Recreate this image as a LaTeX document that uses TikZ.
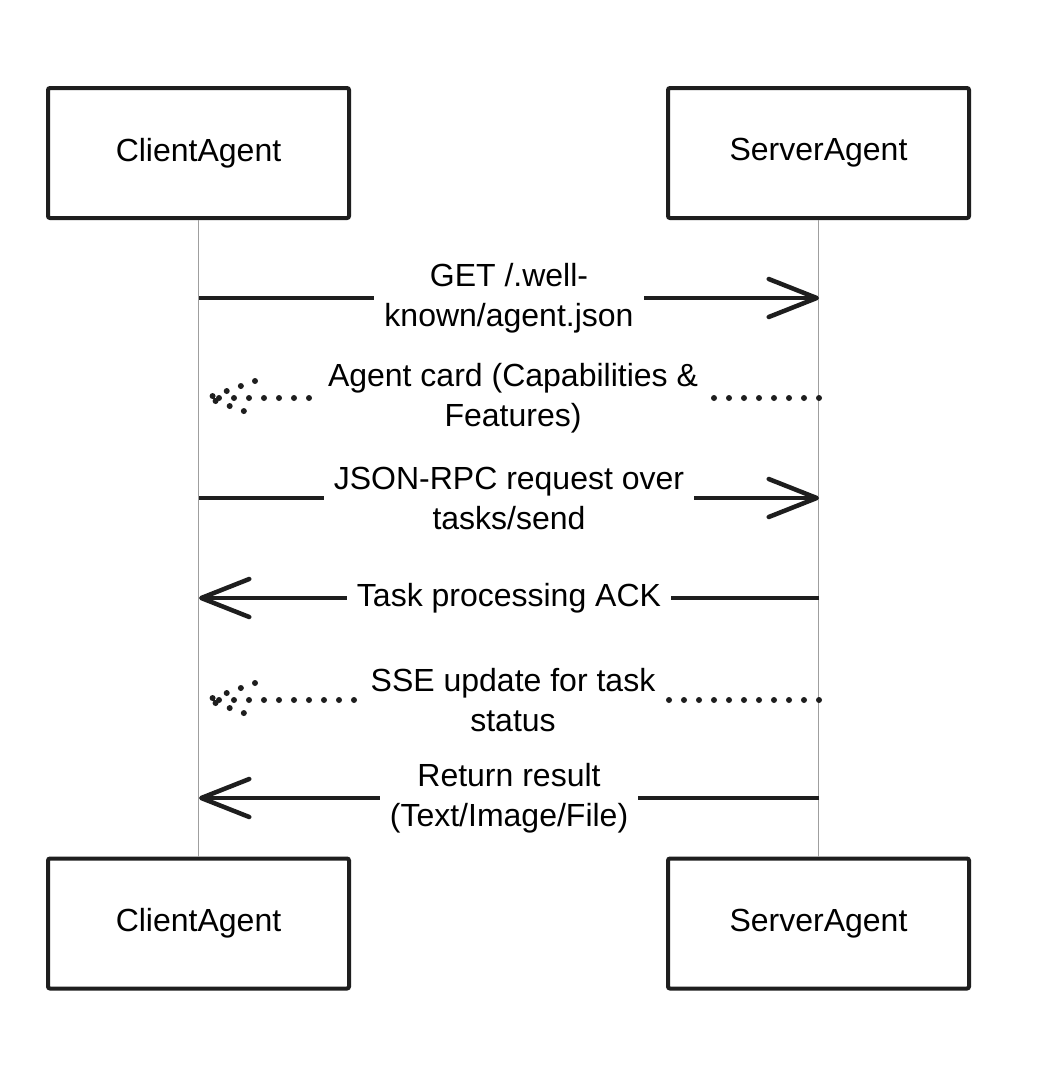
\documentclass[tikz,border=0pt]{standalone}
\usepackage{fontspec}
\setmainfont{Liberation Sans}
\usetikzlibrary{arrows.meta,calc}
\definecolor{ink}{HTML}{1E1E1E}
\begin{document}
\begin{tikzpicture}[x=1pt,y=-1pt,
  actor/.style={draw=ink, line width=4pt, minimum width=301pt, minimum height=130pt, inner sep=0pt, rounded corners=2pt, font=\fontsize{32}{40}\selectfont, fill=white},
  life/.style={draw=gray!75, line width=1.5pt},
  msg/.style={line width=4.5pt, draw=ink},
  solidhead/.style={-{Straight Barb[length=48pt,width=38pt,line width=4.5pt,round]}},
  dotmsg/.style={draw=ink, line width=6pt, line cap=round, dash pattern=on 0pt off 15pt},
  lbl/.style={fill=white, align=center, inner sep=10pt, font=\fontsize{32}{40}\selectfont, text=black}
]
\useasboundingbox[fill=white] (0,0) rectangle (1040,1072);

\node[actor] (ct) at (198.5,153) {ClientAgent};
\node[actor] (st) at (818.5,153) {ServerAgent};
\node[actor] (cb) at (198.5,923.5) {ClientAgent};
\node[actor] (sb) at (818.5,923.5) {ServerAgent};

\draw[life] (ct.south) -- (cb.north);
\draw[life] (st.south) -- (sb.north);

\coordinate (c1) at (199,298);  \coordinate (s1) at (819,298);
\coordinate (c2) at (207,398);  \coordinate (s2) at (819,398);
\coordinate (c3) at (199,498);  \coordinate (s3) at (819,498);
\coordinate (c4) at (199,598);  \coordinate (s4) at (819,598);
\coordinate (c5) at (207,700);  \coordinate (s5) at (819,700);
\coordinate (c6) at (199,798);  \coordinate (s6) at (819,798);

\draw[msg,solidhead] (c1) -- node[lbl]{GET /.well-\\known/agent.json} (s1);

\draw[dotmsg] (s2) -- node[lbl]{Agent card (Capabilities \&\\Features)} (c2);
\draw[dotmsg] ($(c2)+(48,-17)$) -- (c2) -- ($(c2)+(48,17)$);

\draw[msg,solidhead] (c3) -- node[lbl]{JSON-RPC request over\\tasks/send} (s3);

\draw[msg,solidhead] (s4) -- node[lbl]{Task processing ACK} (c4);

\draw[dotmsg] (s5) -- node[lbl]{SSE update for task\\status} (c5);
\draw[dotmsg] ($(c5)+(48,-17)$) -- (c5) -- ($(c5)+(48,17)$);

\draw[msg,solidhead] (s6) -- node[lbl]{Return result\\(Text/Image/File)} (c6);
\end{tikzpicture}
\end{document}
